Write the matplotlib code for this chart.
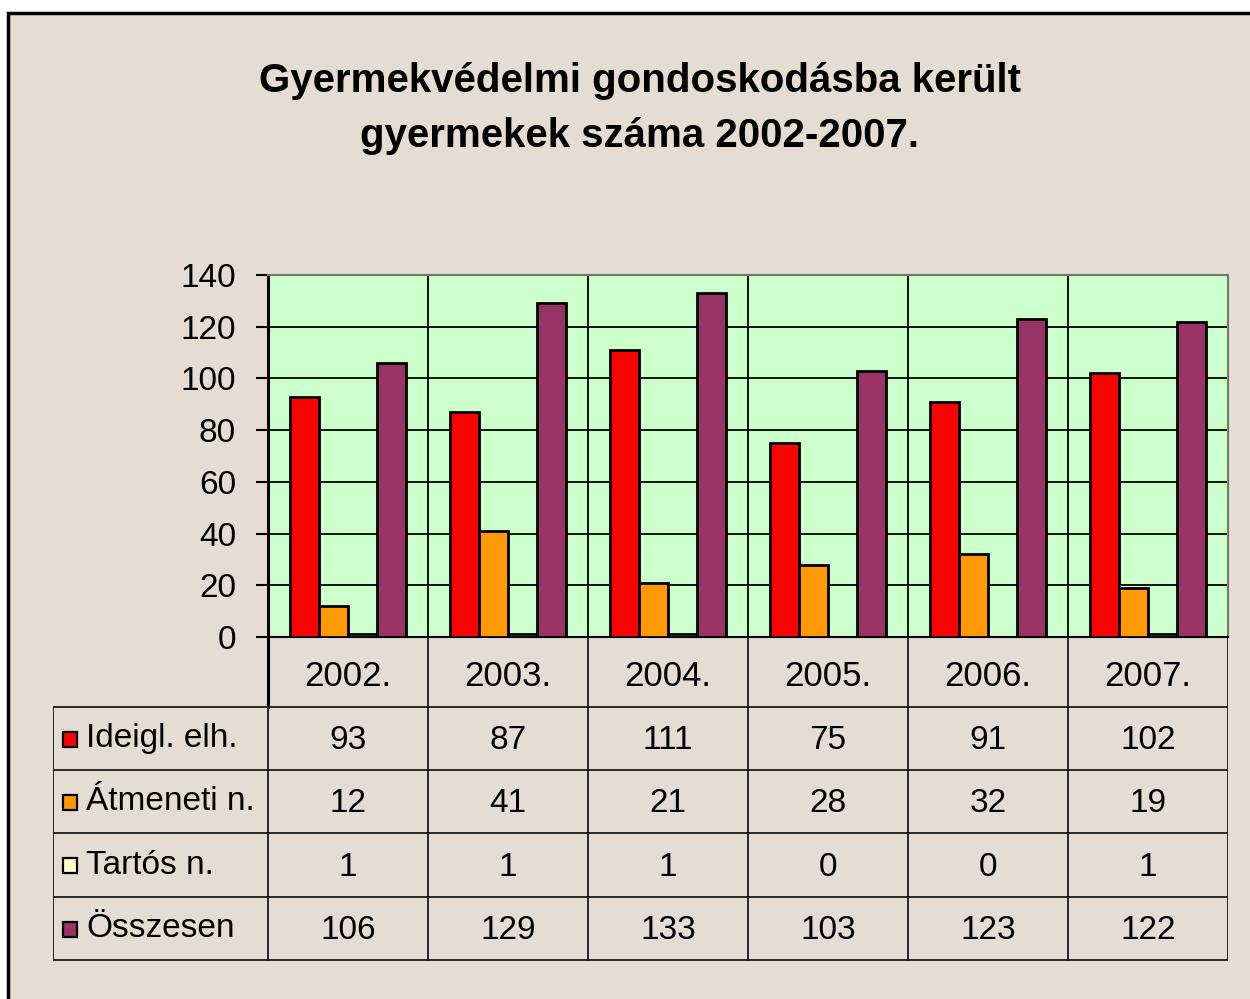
import matplotlib
matplotlib.use("Agg")
import matplotlib.pyplot as plt
from matplotlib.patches import Rectangle
import numpy as np

plt.rcParams["font.family"] = ["Liberation Sans", "DejaVu Sans"]

# ── data ──────────────────────────────────────────────────────────────────────
years = ["2002.", "2003.", "2004.", "2005.", "2006.", "2007."]
series = ["Ideigl. elh.", "Átmeneti n.", "Tartós n.", "Összesen"]
ideigl = [93, 87, 111, 75, 91, 102]
atmeneti = [12, 41, 21, 28, 32, 19]
tartos = [1, 1, 1, 0, 0, 1]
osszesen = [106, 129, 133, 103, 123, 122]
yticks = [0, 20, 40, 60, 80, 100, 120, 140]

values = [ideigl, atmeneti, tartos, osszesen]
colors = ["#ff0000", "#ff9900", "#ffffcc", "#993366"]
BG = "#e5ddd3"

W, H = 1250, 999
fig = plt.figure(figsize=(W / 100, H / 100), dpi=100, facecolor="white")


def fx(px):
    return px / W


def fy(py):
    return 1 - py / H


# slide background with black frame on top/left
fig.patches.append(Rectangle((fx(8), -0.02), 1.05, fy(13) + 0.02,
                             transform=fig.transFigure, facecolor=BG,
                             edgecolor="black", lw=2.5, zorder=-10))

fig.text(fx(640), fy(81), "Gyermekvédelmi gondoskodásba került",
         ha="center", va="center", fontsize=29, fontweight="bold")
fig.text(fx(640), fy(136), "gyermekek száma 2002-2007.",
         ha="center", va="center", fontsize=29, fontweight="bold")

# ── bar chart ────────────────────────────────────────────────────────────────
L, R, T, B = 268, 1228, 275, 637
ax = fig.add_axes([fx(L), fy(B), fx(R) - fx(L), fy(T) - fy(B)])
ax.set_facecolor("#ccffcc")
n = len(years)
x = np.arange(n)
w = 1 / 5.5
for i, (vals, c) in enumerate(zip(values, colors)):
    ax.bar(x + (i - 1.5) * w, vals, w, color=c, edgecolor="black", lw=2, zorder=3)

ax.set_xlim(-0.5, n - 0.5)
ax.set_ylim(0, 140)
ax.set_yticks(yticks)
ax.set_yticklabels([str(t) for t in yticks], fontsize=24)
ax.tick_params(axis="y", length=9, width=1.5, pad=14)
ax.set_xticks([])
for b in np.arange(0.5, n - 0.5, 1):
    ax.axvline(b, color="black", lw=1.3, zorder=1)
ax.yaxis.grid(True, color="black", lw=1.3, zorder=1)
ax.set_axisbelow(True)
for s in ["top", "right"]:
    ax.spines[s].set_color("#6e7a6e")
    ax.spines[s].set_linewidth(1.5)
ax.spines["left"].set_linewidth(2.2)
ax.spines["bottom"].set_linewidth(1.5)

# ── data table ───────────────────────────────────────────────────────────────
TL, TT, TB = 53, 637, 961
tx0 = -0.5 - (L - TL) / (R - L) * n
tax = fig.add_axes([fx(TL), fy(TB), fx(R) - fx(TL), fy(TT) - fy(TB)])
tax.set_xlim(tx0, n - 0.5)
tax.set_ylim(TB, TT)
tax.axis("off")

rows = [637, 707, 770, 833, 897, 960]
lc = "#1a1a1a"
# header row
tax.plot([-0.5, -0.5], [rows[0], rows[1]], color="black", lw=2.2)
for b in np.arange(0.5, n + 0.5, 1):
    tax.plot([b, b], [rows[0], rows[1]], color=lc, lw=1.3)
for i, yr in enumerate(years):
    tax.text(i, (rows[0] + rows[1]) / 2 + 4, yr, ha="center", va="center", fontsize=25)
# body
for r in rows[1:]:
    tax.plot([tx0, n - 0.5], [r, r], color=lc, lw=1.3)
for b in [tx0, -0.5] + list(np.arange(0.5, n + 0.5, 1)):
    tax.plot([b, b], [rows[1], rows[-1]], color=lc, lw=1.3)

px2x = n / (R - L)
for j, (name, vals, c) in enumerate(zip(series, values, colors)):
    yc = (rows[j + 1] + rows[j + 2]) / 2
    tax.add_patch(Rectangle((tx0 + 10 * px2x, yc - 7), 14 * px2x, 15,
                            facecolor=c, edgecolor="black", lw=1.6))
    tax.text(tx0 + 33 * px2x, yc, name, ha="left", va="center", fontsize=24)
    for i, v in enumerate(vals):
        tax.text(i, yc + 2, str(v), ha="center", va="center", fontsize=24)

fig.savefig("out.png", dpi=100, facecolor=fig.get_facecolor())
